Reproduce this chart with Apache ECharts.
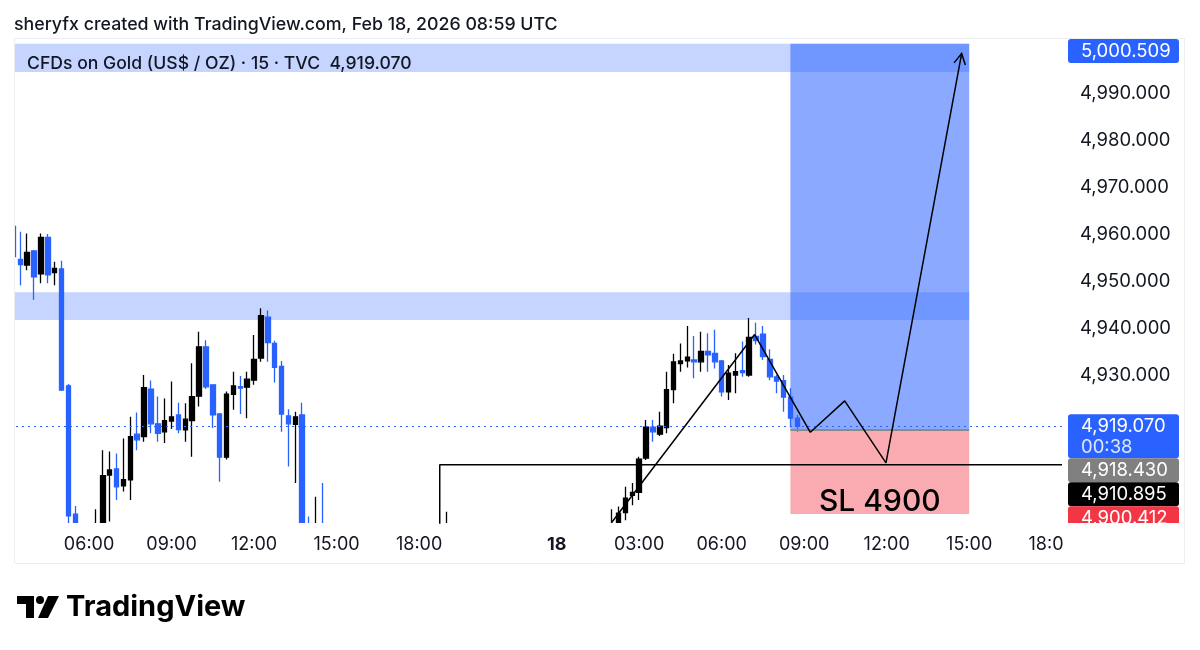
<!DOCTYPE html>
<html><head><meta charset="utf-8">
<script src="https://cdn.jsdelivr.net/npm/echarts@6/dist/echarts.min.js"></script>
<style>html,body{margin:0;padding:0;background:#fff}#c{width:1200px;height:650px}</style>
</head><body><div id="c"></div>
<script>
const FONT = 'Inter, "Liberation Sans", sans-serif';
const titleText = 'sheryfx created with TradingView.com, Feb 18, 2026 08:59 UTC';
const legendText = 'CFDs on Gold (US$ / OZ) \u00b7 15 \u00b7 TVC  4,919.070';
const slText = 'SL 4900';
const countdownText = '00:38';

// 15-minute bars, first visible bar Feb 17 03:15 UTC, daily break 22:00-23:00 UTC
const barCount = 153;
const categories = [];
(function () {
  let t = Date.UTC(2026, 1, 17, 3, 15);
  while (categories.length < barCount) {
    const d = new Date(t);
    if (d.getUTCHours() !== 22) {
      const p = n => String(n).padStart(2, '0');
      categories.push(p(d.getUTCDate()) + ' ' + p(d.getUTCHours()) + ':' + p(d.getUTCMinutes()));
    }
    t += 15 * 60000;
  }
})();
const timeTicks = ['17 06:00','17 09:00','17 12:00','17 15:00','17 18:00','18 00:00','18 03:00','18 06:00','18 09:00','18 12:00','18 15:00','18 18:00'];
const priceTicks = [4930, 4940, 4950, 4960, 4970, 4980, 4990];

// OHLC per bar (null = bar entirely outside the visible price range)
const opens = [4961.6,4954.6,4953.4,4956.4,4951.5,4959.3,4951.8,4952.6,4927.7,4900.4,null,null,4894.0,4897.0,4908.7,4910.0,4906.4,4907.7,4917.4,4916.9,
4927.0,4919.6,4917.9,4920.2,4921.5,4918.3,4920.3,4925.5,4936.0,4927.9,4921.7,4912.5,4925.9,4927.5,4927.4,4928.9,4933.6,4942.3,4936.7,4931.8,
4921.3,4919.5,4921.5,4896.0,4895.0,4896.0,null,null,null,null,null,null,null,null,null,null,null,null,null,null,
null,null,null,4895.0,null,null,null,null,null,null,null,null,null,null,null,null,null,null,null,null,
null,null,null,null,null,null,null,4896.0,4897.5,4900.7,4904.4,4905.0,4912.3,4918.9,4917.4,4918.8,4926.9,4932.4,4933.0,4933.2,
4932.8,4935.0,4934.6,4933.0,4926.4,4930.0,4930.9,4930.0,4938.2,4938.7,4933.3,4929.6,4928.8,4925.3,4920.8];
const closes = [4955.2,4953.5,4956.1,4950.9,4959.3,4951.3,4952.7,4926.8,4900.0,4897.5,null,null,4897.0,4908.6,4909.8,4906.2,4907.7,4916.9,4916.2,4927.3,
4919.6,4917.6,4920.3,4921.1,4918.4,4920.6,4925.4,4936.0,4927.5,4921.5,4912.5,4925.9,4927.7,4927.2,4929.1,4933.3,4942.6,4936.9,4931.6,4921.7,
4919.6,4921.1,4897.0,4894.0,4897.0,4895.0,null,null,null,null,null,null,null,null,null,null,null,null,null,null,
null,null,null,4897.0,null,null,null,null,null,null,null,null,null,null,null,null,null,null,null,null,
null,null,null,null,null,null,null,4897.5,4900.6,4903.8,4905.0,4912.1,4918.9,4917.9,4919.1,4926.9,4932.8,4933.0,4933.8,4932.8,
4935.0,4934.3,4932.8,4926.4,4930.4,4930.7,4930.5,4938.0,4937.3,4933.9,4929.6,4928.7,4925.3,4920.8,4919.07];
const lows = [4953.0,4949.1,4952.3,4946.0,4949.5,4949.5,4949.1,4926.6,4898.5,4895.0,null,null,4891.0,4895.0,4898.8,4903.4,4905.2,4903.4,4914.0,4915.8,
4917.6,4915.8,4915.5,4918.5,4917.6,4915.8,4912.6,4923.3,4927.0,4918.7,4907.3,4912.0,4922.6,4921.7,4920.8,4927.9,4932.8,4932.8,4928.4,4917.9,
4910.5,4907.0,4895.0,4892.0,4893.0,4893.0,null,null,null,null,null,null,null,null,null,null,null,null,null,null,
null,null,null,4893.0,null,null,null,null,null,null,null,null,null,null,null,null,null,null,null,null,
null,null,null,null,null,null,null,4894.0,4896.0,4899.1,4902.3,4903.4,4911.9,4915.8,4917.0,4917.6,4924.0,4930.7,4931.6,4929.3,
4930.7,4930.7,4931.4,4925.4,4924.7,4926.1,4929.6,4929.6,4936.5,4933.2,4928.9,4926.1,4922.2,4918.9,4917.9];
const highs = [4961.8,4960.5,4960.1,4956.6,4960.1,4960.0,4954.1,4954.3,4928.1,4902.1,null,null,4901.4,4914.0,4913.7,4913.3,4916.5,4921.1,4922.0,4930.0,
4928.8,4925.4,4925.0,4928.6,4924.1,4924.0,4932.5,4939.2,4937.4,4927.9,4921.9,4926.5,4930.7,4929.8,4930.7,4938.5,4944.2,4943.7,4937.3,4933.0,
4922.7,4922.2,4924.1,4899.9,4904.1,4907.0,null,null,null,null,null,null,null,null,null,null,null,null,null,null,
null,null,null,4900.9,null,null,null,null,null,null,null,null,null,null,null,null,null,null,null,null,
null,null,null,null,null,null,null,4901.4,4902.0,4906.2,4907.0,4912.6,4920.4,4920.4,4922.2,4930.7,4934.5,4936.7,4940.4,4938.3,
4939.2,4938.9,4939.6,4933.2,4932.1,4934.6,4937.1,4942.1,4941.1,4940.4,4935.5,4930.0,4930.0,4927.2,4921.5];

// drawings (x = bar index, y = price)
const lastPrice = 4919.070;
const entryPrice = 4918.430;
const targetPrice = 5000.509;
const stopPrice = 4900.412;
const levelPrice = 4910.895;
const positionStartBar = 113, positionEndBar = 139;
const levelStartBar = 62;
const zoneUpper = [4994.5, 5000.5];
const zoneMiddle = [4941.7, 4947.6];
const pathPoints = [[87.0, 4898.6], [107.8, 4938.6], [115.9, 4917.8], [120.9, 4924.5], [126.9, 4911.3], [137.9, 4998.4]];
const labelPrices = [targetPrice, lastPrice, entryPrice, levelPrice, stopPrice];

const yMin = 4898.5, yMax = 5001.5;
const fmt = v => v.toLocaleString('en-US', {minimumFractionDigits: 3, maximumFractionDigits: 3});

const candleData = categories.map((c, i) => (i < opens.length && opens[i] != null) ? [opens[i], closes[i], lows[i], highs[i]] : '-');

const chart = echarts.init(document.getElementById('c'), null, {renderer: 'canvas'});
const GRID = {left: 10, right: 138, top: 39, bottom: 127};
const BLUE = '#2962ff';

chart.setOption({
  animation: false,
  backgroundColor: '#ffffff',
  textStyle: {fontFamily: FONT},
  grid: GRID,
  xAxis: [{
    type: 'category', data: categories, boundaryGap: true, z: 20,
    axisLine: {show: false}, axisTick: {show: false}, splitLine: {show: false},
    axisLabel: {
      interval: (i, v) => timeTicks.includes(v),
      margin: 13,
      formatter: v => v.slice(3) === '00:00' ? '{d|' + v.slice(0, 2) + '}' : '{t|' + v.slice(3) + '}',
      rich: {
        d: {fontSize: 18, fontWeight: 'bold', color: '#131722', fontFamily: FONT},
        t: {fontSize: 18, color: '#131722', fontFamily: FONT}
      }
    }
  }, {
    type: 'value', min: -0.5, max: barCount - 0.5, show: false
  }],
  yAxis: [{
    type: 'value', position: 'right', min: yMin, max: yMax, scale: true,
    minInterval: 10, maxInterval: 10,
    axisLine: {show: false}, axisTick: {show: false}, splitLine: {show: false},
    axisLabel: {
      margin: 18, fontSize: 18.5, color: '#131722', fontFamily: FONT,
      formatter: v => priceTicks.includes(Math.round(v * 1000) / 1000) ? fmt(v) : ''
    }
  }],
  series: [
    {
      name: 'areas', type: 'line', xAxisIndex: 1, yAxisIndex: 0, z: 1, data: [], silent: true,
      markArea: {
        silent: true,
        data: [
          [{xAxis: -0.5, yAxis: zoneUpper[0], itemStyle: {color: 'rgba(41,98,255,0.27)'}}, {xAxis: positionEndBar, yAxis: zoneUpper[1]}],
          [{xAxis: -0.5, yAxis: zoneMiddle[0], itemStyle: {color: 'rgba(41,98,255,0.27)'}}, {xAxis: positionEndBar, yAxis: zoneMiddle[1]}],
          [{xAxis: positionStartBar, yAxis: entryPrice, itemStyle: {color: 'rgba(41,98,255,0.55)'}}, {xAxis: positionEndBar, yAxis: targetPrice}],
          [{xAxis: positionStartBar, yAxis: stopPrice, itemStyle: {color: 'rgba(242,54,69,0.42)'},
            label: {show: true, position: 'inside', offset: [0, 30], formatter: slText, fontSize: 30, fontWeight: 500, color: '#000', fontFamily: FONT}},
           {xAxis: positionEndBar, yAxis: entryPrice}]
        ]
      },
      markLine: {
        silent: true, symbol: 'none', label: {show: false},
        data: [
          [{xAxis: positionStartBar, yAxis: entryPrice, lineStyle: {color: '#8a8a8a', width: 2, type: 'solid'}}, {xAxis: positionEndBar, yAxis: entryPrice}],
          [{xAxis: -0.5, yAxis: lastPrice, lineStyle: {color: BLUE, width: 1.2, type: [2, 4]}}, {xAxis: barCount - 0.5, yAxis: lastPrice}]
        ]
      }
    },
    {
      name: 'XAUUSD', type: 'candlestick', xAxisIndex: 0, yAxisIndex: 0, z: 3, data: candleData,
      barWidth: 5, clip: true,
      itemStyle: {color: '#000000', color0: BLUE, borderColor: '#000000', borderColor0: BLUE, borderWidth: 1.3}
    },
    {
      name: 'level', type: 'line', xAxisIndex: 1, yAxisIndex: 0, z: 5, symbol: 'none', clip: true,
      data: [[levelStartBar, yMin - 5], [levelStartBar, levelPrice], [barCount - 0.5, levelPrice]],
      lineStyle: {color: '#000', width: 1.5}
    },
    {
      name: 'path', type: 'line', xAxisIndex: 1, yAxisIndex: 0, z: 6, symbol: 'none', clip: true,
      data: pathPoints, lineStyle: {color: '#000', width: 1.5}
    },
    {
      name: 'arrow', type: 'custom', xAxisIndex: 1, yAxisIndex: 0, z: 6, silent: true, clip: false,
      data: [pathPoints[pathPoints.length - 1]],
      renderItem: (params, api) => {
        const a = api.coord(pathPoints[pathPoints.length - 2]);
        const b = api.coord(pathPoints[pathPoints.length - 1]);
        const ang = Math.atan2(b[1] - a[1], b[0] - a[0]);
        const L = 12, s = 0.5;
        const p1 = [b[0] - L * Math.cos(ang - s), b[1] - L * Math.sin(ang - s)];
        const p2 = [b[0] - L * Math.cos(ang + s), b[1] - L * Math.sin(ang + s)];
        return {type: 'polyline', shape: {points: [p1, b, p2]}, style: {stroke: '#000', lineWidth: 1.5, fill: null}};
      }
    }
  ]
});

// price-scale labels, stacked like TradingView does
const paneTop = GRID.top, paneBottom = 650 - GRID.bottom, paneRight = 1200 - GRID.right;
const labelColors = [BLUE, BLUE, '#808080', '#000000', '#f23645'];
const gfx = [];
let prevBottom = -Infinity;
labelPrices.forEach((p, k) => {
  const h = (p === lastPrice) ? 44 : 24;
  const yc = chart.convertToPixel({yAxisIndex: 0}, p);
  let top = Math.max(yc - 12, prevBottom, paneTop);
  prevBottom = top + h;
  gfx.push({type: 'rect', z: 40, shape: {x: paneRight + 6, y: top, width: 111, height: h, r: 3}, style: {fill: labelColors[k]}});
  gfx.push({type: 'text', z: 41, x: paneRight + 19, y: top + 12, style: {text: fmt(p), fill: '#fff', font: '18.5px ' + FONT, textVerticalAlign: 'middle'}});
  if (p === lastPrice) {
    gfx.push({type: 'text', z: 41, x: paneRight + 19, y: top + 33, style: {text: countdownText, fill: 'rgba(255,255,255,0.85)', font: '18.5px ' + FONT, textVerticalAlign: 'middle'}});
  }
});

chart.setOption({
  graphic: gfx.concat([
    // masks that clip the price pane like the original (below axis labels, above candles)
    {type: 'rect', z: 4, shape: {x: 0, y: paneBottom, width: paneRight, height: 563 - paneBottom}, style: {fill: '#fff'}},
    {type: 'rect', z: 50, shape: {x: paneRight + 1, y: paneBottom, width: 1200 - paneRight, height: 45}, style: {fill: '#fff'}},
    {type: 'rect', z: 50, shape: {x: 0, y: paneTop - 2, width: 14, height: paneBottom - paneTop + 4}, style: {fill: '#fff'}},
    // card border
    {type: 'rect', z: 60, shape: {x: 14.5, y: 38.5, width: 1170, height: 525}, style: {fill: null, stroke: '#eceef2', lineWidth: 1}},
    // title
    {type: 'text', z: 60, x: 14, y: 25, style: {text: titleText, fill: '#131722', font: '500 17.8px ' + FONT, textVerticalAlign: 'middle'}},
    // legend
    {type: 'text', z: 60, x: 27, y: 64, style: {text: legendText, fill: '#131722', font: '500 17.6px ' + FONT, textVerticalAlign: 'middle'}},
    // logo
    {type: 'group', z: 60, x: 17, y: 596, children: [
      {type: 'rect', shape: {x: 0, y: 0, width: 17, height: 8}, style: {fill: '#000'}},
      {type: 'rect', shape: {x: 9, y: 0, width: 8, height: 22}, style: {fill: '#000'}},
      {type: 'circle', shape: {cx: 23, cy: 4, r: 4}, style: {fill: '#000'}},
      {type: 'polygon', shape: {points: [[31, 0], [42, 0], [31, 22], [21, 22]]}, style: {fill: '#000'}}
    ]},
    {type: 'text', z: 60, x: 66, y: 607, style: {text: 'TradingView', fill: '#000', font: 'bold 29px ' + FONT, textVerticalAlign: 'middle'}}
  ])
});
</script>
</body></html>
